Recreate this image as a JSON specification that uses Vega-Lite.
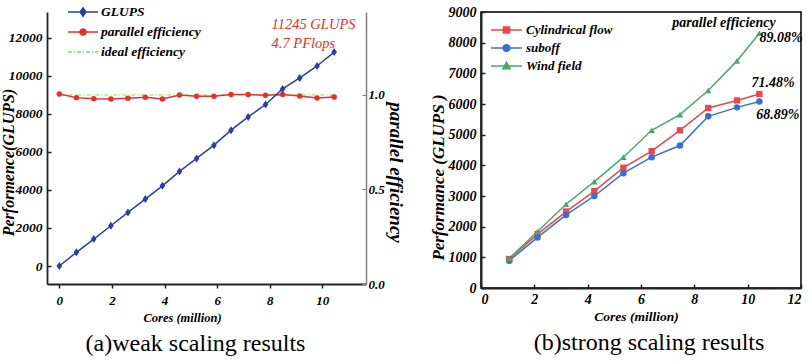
{
  "$schema": "https://vega.github.io/schema/vega-lite/v6.json",
  "padding": {"left": 0, "top": 4, "right": 0, "bottom": 0},
  "background": "white",
  "spacing": 115,
  "bounds": "flush",
  "config": {
    "font": "Liberation Serif",
    "view": {"stroke": null},
    "axis": {"labelFont": "Liberation Serif", "labelFontStyle": "italic", "labelFontWeight": "bold", "labelColor": "black", "titleFont": "Liberation Serif", "titleFontStyle": "italic", "titleFontWeight": "bold", "titleColor": "black", "domain": true, "domainColor": "#222222", "tickColor": "#222222", "grid": false},
    "legend": {"labelFont": "Liberation Serif", "labelFontStyle": "italic", "labelFontWeight": "bold", "labelColor": "black", "padding": 0},
    "title": {"font": "Liberation Serif", "fontWeight": "normal", "color": "black"}
  },
  "resolve": {"scale": {"color": "independent"}, "legend": {"color": "independent"}},
  "datasets": {
    "glups": [
      {"x": 0, "y": 0, "series": "GLUPS"},
      {"x": 0.65, "y": 720, "series": "GLUPS"},
      {"x": 1.31, "y": 1417, "series": "GLUPS"},
      {"x": 1.96, "y": 2115, "series": "GLUPS"},
      {"x": 2.61, "y": 2818, "series": "GLUPS"},
      {"x": 3.27, "y": 3517, "series": "GLUPS"},
      {"x": 3.92, "y": 4215, "series": "GLUPS"},
      {"x": 4.57, "y": 4970, "series": "GLUPS"},
      {"x": 5.22, "y": 5653, "series": "GLUPS"},
      {"x": 5.88, "y": 6352, "series": "GLUPS"},
      {"x": 6.53, "y": 7139, "series": "GLUPS"},
      {"x": 7.18, "y": 7838, "series": "GLUPS"},
      {"x": 7.84, "y": 8488, "series": "GLUPS"},
      {"x": 8.49, "y": 9307, "series": "GLUPS"},
      {"x": 9.14, "y": 9885, "series": "GLUPS"},
      {"x": 9.8, "y": 10514, "series": "GLUPS"},
      {"x": 10.45, "y": 11245, "series": "GLUPS"}
    ],
    "eff": [
      {"x": 0, "y": 1.005, "series": "parallel efficiency"},
      {"x": 0.65, "y": 0.986, "series": "parallel efficiency"},
      {"x": 1.31, "y": 0.98, "series": "parallel efficiency"},
      {"x": 1.96, "y": 0.979, "series": "parallel efficiency"},
      {"x": 2.61, "y": 0.983, "series": "parallel efficiency"},
      {"x": 3.27, "y": 0.988, "series": "parallel efficiency"},
      {"x": 3.92, "y": 0.979, "series": "parallel efficiency"},
      {"x": 4.57, "y": 1.0, "series": "parallel efficiency"},
      {"x": 5.22, "y": 0.993, "series": "parallel efficiency"},
      {"x": 5.88, "y": 0.993, "series": "parallel efficiency"},
      {"x": 6.53, "y": 1.002, "series": "parallel efficiency"},
      {"x": 7.18, "y": 1.002, "series": "parallel efficiency"},
      {"x": 7.84, "y": 0.998, "series": "parallel efficiency"},
      {"x": 8.49, "y": 1.002, "series": "parallel efficiency"},
      {"x": 9.14, "y": 0.995, "series": "parallel efficiency"},
      {"x": 9.8, "y": 0.984, "series": "parallel efficiency"},
      {"x": 10.45, "y": 0.989, "series": "parallel efficiency"}
    ],
    "ideal": [
      {"x": 0, "y": 1.0, "series": "ideal efficiency"},
      {"x": 10.45, "y": 1.0, "series": "ideal efficiency"}
    ],
    "annA": [
      {"x": 8.07, "y": 12667, "label": "11245 GLUPS"},
      {"x": 8.07, "y": 11669, "label": "4.7 PFlops"}
    ],
    "strong": [
      {"x": 1.06, "y": 945, "series": "Cylindrical flow"},
      {"x": 2.12, "y": 1756, "series": "Cylindrical flow"},
      {"x": 3.19, "y": 2493, "series": "Cylindrical flow"},
      {"x": 4.25, "y": 3162, "series": "Cylindrical flow"},
      {"x": 5.34, "y": 3922, "series": "Cylindrical flow"},
      {"x": 6.4, "y": 4461, "series": "Cylindrical flow"},
      {"x": 7.46, "y": 5143, "series": "Cylindrical flow"},
      {"x": 8.52, "y": 5870, "series": "Cylindrical flow"},
      {"x": 9.6, "y": 6117, "series": "Cylindrical flow"},
      {"x": 10.44, "y": 6325, "series": "Cylindrical flow"},
      {"x": 1.06, "y": 890, "series": "suboff"},
      {"x": 2.12, "y": 1649, "series": "suboff"},
      {"x": 3.19, "y": 2383, "series": "suboff"},
      {"x": 4.25, "y": 3000, "series": "suboff"},
      {"x": 5.34, "y": 3745, "series": "suboff"},
      {"x": 6.4, "y": 4266, "series": "suboff"},
      {"x": 7.46, "y": 4646, "series": "suboff"},
      {"x": 8.52, "y": 5597, "series": "suboff"},
      {"x": 9.6, "y": 5890, "series": "suboff"},
      {"x": 10.44, "y": 6084, "series": "suboff"},
      {"x": 1.06, "y": 967, "series": "Wind field"},
      {"x": 2.12, "y": 1844, "series": "Wind field"},
      {"x": 3.19, "y": 2730, "series": "Wind field"},
      {"x": 4.25, "y": 3468, "series": "Wind field"},
      {"x": 5.34, "y": 4266, "series": "Wind field"},
      {"x": 6.4, "y": 5143, "series": "Wind field"},
      {"x": 7.46, "y": 5652, "series": "Wind field"},
      {"x": 8.52, "y": 6442, "series": "Wind field"},
      {"x": 9.6, "y": 7406, "series": "Wind field"},
      {"x": 10.44, "y": 8305, "series": "Wind field"}
    ],
    "annB": [
      {"x": 7.17, "y": 8649, "label": "parallel efficiency"},
      {"x": 10.44, "y": 8162, "label": "89.08%"},
      {"x": 10.14, "y": 6701, "label": "71.48%"},
      {"x": 10.32, "y": 5653, "label": "68.89%"}
    ]
  },
  "hconcat": [
    {
      "width": 319,
      "height": 272,
      "title": {"text": "(a)weak scaling results", "orient": "bottom", "fontSize": 24, "dx": -11, "offset": 8},
      "encoding": {
        "x": {"field": "x", "type": "quantitative", "scale": {"domain": [-0.468, 11.66], "nice": false, "zero": false},
          "axis": {"values": [0, 2, 4, 6, 8, 10], "title": "Cores (million)", "titleFontSize": 12.5, "labelFontSize": 13, "domain": true, "domainColor": "#222222", "tickColor": "#222222", "domainWidth": 1.8, "tickWidth": 1.5, "tickSize": 4, "labelPadding": 6, "titlePadding": 4, "titleX": 135}},
        "color": {"field": "series", "type": "nominal",
          "scale": {"domain": ["GLUPS", "parallel efficiency", "ideal efficiency"], "range": ["#2c3ea5", "#e8302a", "#77dd55"]},
          "legend": {"title": null, "orient": "none", "legendX": 20, "legendY": -8, "labelFontSize": 13.5, "symbolSize": 900, "clipHeight": 16, "rowPadding": 4, "labelOffset": 2,
            "encode": {"symbols": {"update": {
              "shape": {"signal": "datum.value === 'GLUPS' ? 'M-1,0L1,0M0,-0.28L0.19,0L0,0.28L-0.19,0Z' : datum.value === 'parallel efficiency' ? 'M-1,0L1,0M0.2,0A0.2,0.2,0,1,1,-0.2,0A0.2,0.2,0,1,1,0.2,0Z' : 'M-1,0L1,0'"},
              "fill": {"signal": "datum.value === 'GLUPS' ? '#2c3ea5' : datum.value === 'parallel efficiency' ? '#e8302a' : '#77dd55'"},
              "stroke": {"signal": "datum.value === 'GLUPS' ? '#2c3ea5' : datum.value === 'parallel efficiency' ? '#e8302a' : '#77dd55'"},
              "strokeDash": {"signal": "datum.value === 'ideal efficiency' ? [4,2,1,2] : [1,0]"},
              "size": {"value": 900},
              "opacity": {"value": 1},
              "strokeWidth": {"value": 1.5}
            }}}}
        }
      },
      "layer": [
        {
          "encoding": {"y": {"field": "y", "type": "quantitative", "scale": {"domain": [0, 1.439], "nice": false, "zero": false},
            "axis": {"orient": "right", "values": [0, 0.5, 1], "format": ".1f", "title": "parallel efficiency", "titleFontSize": 19, "labelFontSize": 13, "domainColor": "#808080", "tickColor": "#808080", "domainWidth": 1.5, "tickSize": -4, "labelPadding": 6, "titlePadding": 1, "titleY": 160}}},
          "layer": [
            {"data": {"name": "ideal"}, "mark": {"type": "line", "strokeWidth": 1, "strokeDash": [4, 2, 1, 2]}},
            {"data": {"name": "eff"}, "mark": {"type": "line", "strokeWidth": 1.5}},
            {"data": {"name": "eff"}, "mark": {"type": "point", "filled": true, "opacity": 1, "size": 30, "shape": "circle"}}
          ]
        },
        {
          "encoding": {"y": {"field": "y", "type": "quantitative", "scale": {"domain": [-946, 13351], "nice": false, "zero": false},
            "axis": {"orient": "left", "values": [0, 2000, 4000, 6000, 8000, 10000, 12000], "format": "d", "title": "Performence(GLUPS)", "titleFontSize": 16, "labelFontSize": 13.5, "domain": true, "domainColor": "#222222", "tickColor": "#222222", "domainWidth": 1.8, "tickWidth": 1.5, "tickSize": -4, "labelPadding": 9, "titlePadding": -8, "titleY": 150}}},
          "layer": [
            {"data": {"name": "glups"}, "mark": {"type": "line", "strokeWidth": 1.5}},
            {"data": {"name": "glups"}, "mark": {"type": "point", "filled": true, "opacity": 1, "size": 64, "shape": "M0,-1L0.7,0L0,1L-0.7,0Z"}},
            {"data": {"name": "annA"}, "mark": {"type": "text", "align": "left", "baseline": "middle", "fontSize": 14.5, "fontStyle": "italic", "font": "Liberation Serif"},
              "encoding": {"text": {"field": "label"}, "color": {"value": "#e8302a"}}}
          ]
        }
      ],
      "resolve": {"scale": {"y": "independent"}}
    },
    {
      "width": 320,
      "height": 276,
      "view": {"stroke": "black", "strokeWidth": 1.5},
      "title": {"text": "(b)strong scaling results", "orient": "bottom", "fontSize": 24, "dx": 8, "offset": 8},
      "encoding": {
        "x": {"field": "x", "type": "quantitative", "scale": {"domain": [0, 12], "nice": false, "zero": false},
          "axis": {"values": [0, 2, 4, 6, 8, 10, 12], "title": "Cores (million)", "titleFontSize": 13.5, "labelFontSize": 14, "domainWidth": 2, "tickWidth": 1.5, "tickSize": -4, "labelPadding": 8, "titlePadding": 3, "titleX": 155}},
        "y": {"field": "y", "type": "quantitative", "scale": {"domain": [0, 9000], "nice": false, "zero": false},
          "axis": {"values": [0, 1000, 2000, 3000, 4000, 5000, 6000, 7000, 8000, 9000], "format": "d", "title": "Performance  (GLUPS )", "titleFontSize": 17, "labelFontSize": 14, "domainWidth": 2, "tickWidth": 1.5, "tickSize": -4, "labelPadding": 9, "titlePadding": 1, "titleY": 165}},
        "color": {"field": "series", "type": "nominal",
          "scale": {"domain": ["Cylindrical flow", "suboff", "Wind field"], "range": ["#e8474c", "#3a6fd0", "#4aa86a"]},
          "legend": {"title": null, "orient": "none", "legendX": 9, "legendY": 10, "labelFontSize": 13, "symbolSize": 960, "clipHeight": 16, "rowPadding": 2, "labelOffset": 3,
            "encode": {"symbols": {"update": {
              "shape": {"signal": "datum.value === 'Cylindrical flow' ? 'M-1,0L1,0M-0.2,-0.2L0.2,-0.2L0.2,0.2L-0.2,0.2Z' : datum.value === 'suboff' ? 'M-1,0L1,0M0.21,0A0.21,0.21,0,1,1,-0.21,0A0.21,0.21,0,1,1,0.21,0Z' : 'M-1,0L1,0M0,-0.24L0.24,0.17L-0.24,0.17Z'"},
              "fill": {"signal": "datum.value === 'Cylindrical flow' ? '#e8474c' : datum.value === 'suboff' ? '#3a6fd0' : '#4aa86a'"},
              "stroke": {"signal": "datum.value === 'Cylindrical flow' ? '#e8474c' : datum.value === 'suboff' ? '#3a6fd0' : '#4aa86a'"},
              "size": {"value": 960},
              "opacity": {"value": 1},
              "strokeWidth": {"value": 1.5}
            }}}}
        }
      },
      "layer": [
        {"data": {"name": "strong"}, "mark": {"type": "line", "strokeWidth": 1.5}},
        {"data": {"name": "strong"}, "transform": [{"filter": "datum.series === 'Cylindrical flow'"}], "mark": {"type": "point", "filled": true, "opacity": 1, "size": 40, "shape": "square"}},
        {"data": {"name": "strong"}, "transform": [{"filter": "datum.series === 'suboff'"}], "mark": {"type": "point", "filled": true, "opacity": 1, "size": 42, "shape": "circle"}},
        {"data": {"name": "strong"}, "transform": [{"filter": "datum.series === 'Wind field'"}], "mark": {"type": "point", "filled": true, "opacity": 1, "size": 42, "shape": "triangle-up"}},
        {"data": {"name": "annB"}, "mark": {"type": "text", "align": "left", "baseline": "middle", "fontSize": 14, "fontStyle": "italic", "fontWeight": "bold", "font": "Liberation Serif"},
          "encoding": {"text": {"field": "label"}, "color": {"value": "black"}}}
      ]
    }
  ]
}
